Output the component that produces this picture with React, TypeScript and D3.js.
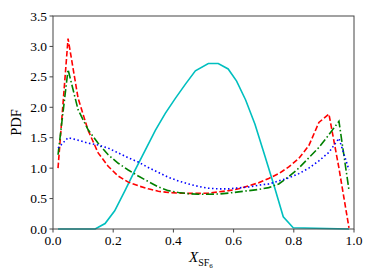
import React from "react";
import * as d3 from "d3";

const gridX = [0.0167, 0.05, 0.0833, 0.1167, 0.15, 0.1833, 0.2167, 0.25, 0.2833, 0.3167, 0.35, 0.3833, 0.4167, 0.45, 0.4833, 0.5167, 0.55, 0.5833, 0.6167, 0.65, 0.6833, 0.7167, 0.75, 0.7833, 0.8167, 0.85, 0.8833, 0.9167, 0.95, 0.9833];
const redY = [1.0, 3.13, 2.15, 1.62, 1.25, 1.03, 0.87, 0.77, 0.71, 0.66, 0.62, 0.6, 0.59, 0.585, 0.585, 0.59, 0.61, 0.63, 0.66, 0.71, 0.76, 0.83, 0.91, 1.02, 1.16, 1.37, 1.75, 1.89, 1.0, 0.02];
const greenY = [1.22, 2.62, 1.96, 1.63, 1.41, 1.22, 1.08, 0.97, 0.87, 0.78, 0.69, 0.63, 0.6, 0.58, 0.57, 0.57, 0.575, 0.59, 0.61, 0.63, 0.65, 0.68, 0.74, 0.86, 1.0, 1.17, 1.34, 1.55, 1.77, 0.64];
const blueY = [1.33, 1.5, 1.46, 1.41, 1.38, 1.33, 1.25, 1.17, 1.1, 1.01, 0.93, 0.85, 0.79, 0.74, 0.7, 0.67, 0.66, 0.66, 0.675, 0.69, 0.72, 0.74, 0.79, 0.84, 0.91, 1.0, 1.12, 1.26, 1.49, 0.97];
const cyanX = [0.0167, 0.14, 0.173, 0.205, 0.24, 0.273, 0.307, 0.34, 0.373, 0.407, 0.44, 0.473, 0.516, 0.549, 0.582, 0.61, 0.64, 0.671, 0.704, 0.737, 0.765, 0.798, 0.9833];
const cyanY = [0, 0, 0.09, 0.3, 0.64, 0.97, 1.3, 1.62, 1.9, 2.15, 2.38, 2.6, 2.72, 2.72, 2.63, 2.43, 2.12, 1.72, 1.2, 0.67, 0.2, 0.02, 0];
const xTicks = [0, 0.2, 0.4, 0.6, 0.8, 1.0];
const yTicks = [0, 0.5, 1.0, 1.5, 2.0, 2.5, 3.0, 3.5];

const L = 53, R = 354, T = 16, B = 229;
const FONT = "Liberation Serif, Times New Roman, Times, serif";

export default function App() {
  const x = d3.scaleLinear().domain([0, 1]).range([L, R]);
  const y = d3.scaleLinear().domain([0, 3.5]).range([B, T]);
  const line = d3.line<[number, number]>().x((d) => x(d[0])).y((d) => y(d[1]));
  const series = [
    { xs: cyanX, ys: cyanY, color: "#00bfbf", dash: undefined },
    { xs: gridX, ys: redY, color: "#ff0000", dash: "5.5,2.5" },
    { xs: gridX, ys: greenY, color: "#008000", dash: "8,2.5,1.5,2.5" },
    { xs: gridX, ys: blueY, color: "#0000ff", dash: "1.5,2.5" },
  ];
  return (
    <svg width={374} height={280} style={{ position: "absolute", left: 0, top: 0 }}>
      <rect x={0} y={0} width={374} height={280} fill="#fff" />
      <g>
        {series.map((s, i) => (
          <path
            key={i}
            d={line(s.xs.map((v, j) => [v, s.ys[j]] as [number, number])) || ""}
            fill="none"
            stroke={s.color}
            strokeWidth={1.6}
            strokeDasharray={s.dash}
          />
        ))}
      </g>
      <rect x={L} y={T} width={R - L} height={B - T} fill="none" stroke="#444" strokeWidth={1} />
      {xTicks.map((t) => (
        <g key={"x" + t}>
          <line x1={x(t)} x2={x(t)} y1={B} y2={B + 3.5} stroke="#444" strokeWidth={1} />
          <text x={x(t)} y={245} textAnchor="middle" style={{ fontFamily: FONT, fontSize: "13.5px" }} fill="#000">
            {t.toFixed(1)}
          </text>
        </g>
      ))}
      {yTicks.map((t) => (
        <g key={"y" + t}>
          <line x1={L - 3.5} x2={L} y1={y(t)} y2={y(t)} stroke="#444" strokeWidth={1} />
          <text x={47} y={y(t) + 4.5} textAnchor="end" style={{ fontFamily: FONT, fontSize: "13.5px" }} fill="#000">
            {t.toFixed(1)}
          </text>
        </g>
      ))}
      <text
        transform={`translate(21,${(T + B) / 2}) rotate(-90)`}
        textAnchor="middle"
        style={{ fontFamily: FONT, fontSize: "14.5px" }}
        fill="#000"
      >
        PDF
      </text>
      <text x={189} y={262} style={{ fontFamily: FONT }} fill="#000">
        <tspan style={{ fontStyle: "italic", fontSize: "15px" }}>X</tspan>
        <tspan style={{ fontSize: "10px" }} dy={4}>SF</tspan>
        <tspan style={{ fontSize: "7px" }} dy={2}>6</tspan>
      </text>
    </svg>
  );
}
